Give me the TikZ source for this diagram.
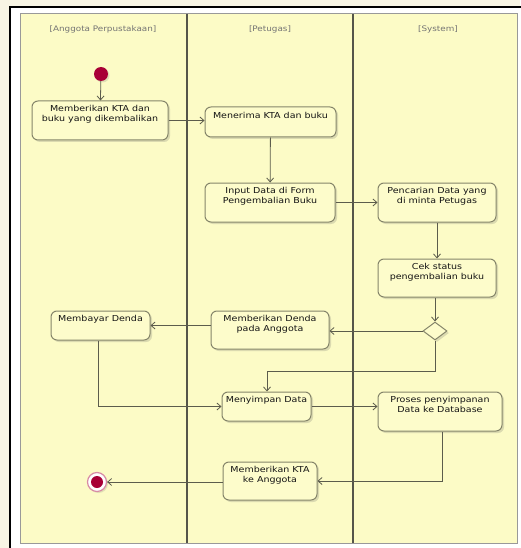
\documentclass[tikz,border=0pt]{standalone}
\usepackage{fontspec}
\newfontfamily\lblfont[FakeStretch=1.16]{DejaVu Sans}
\usetikzlibrary{arrows.meta,shapes.geometric,shadows}
\definecolor{pagebg}{HTML}{F8F5E4}
\definecolor{lanefill}{HTML}{FCFBC6}
\definecolor{boxfill}{HTML}{FDFCCB}
\definecolor{boxline}{HTML}{85856A}
\definecolor{linec}{HTML}{5C5C4C}
\definecolor{laneline}{HTML}{55554A}
\definecolor{umlred}{HTML}{A80036}
\begin{document}
\begin{tikzpicture}[x=1pt,y=-1pt,
  flow/.style={draw=linec, line width=0.8pt, -{Straight Barb[length=4pt,width=7pt]}},
  act/.style 2 args={draw=boxline, fill=boxfill, rounded corners=6pt, line width=1pt,
    drop shadow={shadow xshift=2pt, shadow yshift=-2pt, opacity=0.22, fill=black!60},
    minimum width=#1pt, minimum height=#2pt, inner sep=0pt},
  txt/.style={font=\lblfont\fontsize{8.2}{9.2}\selectfont, align=center, anchor=north,
    inner sep=0pt, text=black!92},
  hdr/.style={font=\lblfont\fontsize{7.6}{9}\selectfont, text=black!55, inner sep=0pt}]
\useasboundingbox (0,0) rectangle (520,548);

% page, frame and swimlanes
\fill[pagebg] (0,0) rectangle (520,548);
\fill[white] (10,7) rectangle (525,555);
\draw[black, line width=2pt] (10,560) -- (10,7) -- (530,7);
\draw[fill=lanefill, draw=black!40, line width=1pt] (20,14) rectangle (517,543);
\draw[laneline, line width=1.1pt] (187,14) -- (187,543);
\draw[laneline, line width=1.1pt] (353,14) -- (353,543);

\node[hdr] (h1) at (103,29) {[Anggota Perpustakaan]};
\node[hdr] (h2) at (270,29) {[Petugas]};
\node[hdr] (h3) at (438,29) {[System]};

% start and end
\node[circle, fill=umlred, minimum size=14pt, inner sep=0pt,
  drop shadow={shadow xshift=1.5pt, shadow yshift=-1.5pt, opacity=0.18, fill=black!60}] (start) at (101,74) {};
\node[circle, draw=umlred!45, line width=1.2pt, fill=white, minimum size=19pt, inner sep=0pt,
  drop shadow={shadow xshift=1.5pt, shadow yshift=-1.5pt, opacity=0.18, fill=black!60}] (stop) at (97,482) {};
\node[circle, fill=umlred, minimum size=12pt, inner sep=0pt] (stopdot) at (stop.center) {};

% activities
\node[act={136}{39}] (n1) at (100,120.5) {};
\node[txt] (t1) at ([yshift=-5pt]n1.north) {Memberikan KTA dan\\buku yang dikembalikan};
\node[act={131}{30}] (n2) at (270.5,122) {};
\node[txt] (t2) at ([yshift=-6pt]n2.north) {Menerima KTA dan buku};
\node[act={130}{39}] (n3) at (270,202.5) {};
\node[txt] (t3) at ([yshift=-5pt]n3.north) {Input Data di Form\\Pengembalian Buku};
\node[act={118}{39}] (n4) at (437,202.5) {};
\node[txt] (t4) at ([yshift=-5pt]n4.north) {Pencarian Data yang\\di minta Petugas};
\node[act={118}{38}] (n5) at (437,278) {};
\node[txt] (t5) at ([yshift=-5pt]n5.north) {Cek status\\pengembalian buku};
\node[diamond, draw=boxline, fill=boxfill, line width=1pt, minimum width=24pt,
  minimum height=18pt, inner sep=0pt,
  drop shadow={shadow xshift=2pt, shadow yshift=-2pt, opacity=0.22, fill=black!60}] (dec) at (435,331) {};
\node[act={118}{38}] (n6) at (270,330) {};
\node[txt] (t6) at ([yshift=-5pt]n6.north) {Memberikan Denda\\pada Anggota};
\node[act={99}{29}] (n7) at (100.5,325.5) {};
\node[txt] (t7) at ([yshift=-5pt]n7.north) {Membayar Denda};
\node[act={89}{29}] (n8) at (266.5,406.5) {};
\node[txt] (t8) at ([yshift=-5pt]n8.north) {Menyimpan Data};
\node[act={124}{39}] (n9) at (440,411.5) {};
\node[txt] (t9) at ([yshift=-5pt]n9.north) {Proses penyimpanan\\Data ke Database};
\node[act={94}{38}] (n10) at (270,481) {};
\node[txt] (t10) at ([yshift=-5pt]n10.north) {Memberikan KTA\\ke Anggota};

% control flow
\coordinate (m1) at (435,371);
\coordinate (m2) at (267,371);
\draw[flow] (start) -- (n1);
\draw[flow] (n1.east) -- (n1.east -| n2.west);
\draw[flow] (n2) -- (n3);
\draw[flow] (n3.east) -- (n3.east -| n4.west);
\draw[flow] (n4) -- (n5);
\draw[flow] (n5.south -| dec.north) -- (dec.north);
\draw[flow] (dec.west) -- (dec.west -| n6.east);
\draw[flow] (n6.west |- n7.east) -- (n7.east);
\draw[flow] (dec.south) -- (m1) -- (m2) -- (m2 |- n8.north);
\draw[flow] ([xshift=-2pt]n7.south) -- ([xshift=-2pt]n7.south |- n8.west) -- (n8.west);
\draw[flow] (n8.east) -- (n8.east -| n9.west);
\draw[flow] ([xshift=2pt]n9.south) |- (n10.east);
\draw[flow] (n10.west |- stop.east) -- (stop.east);
\end{tikzpicture}
\end{document}
